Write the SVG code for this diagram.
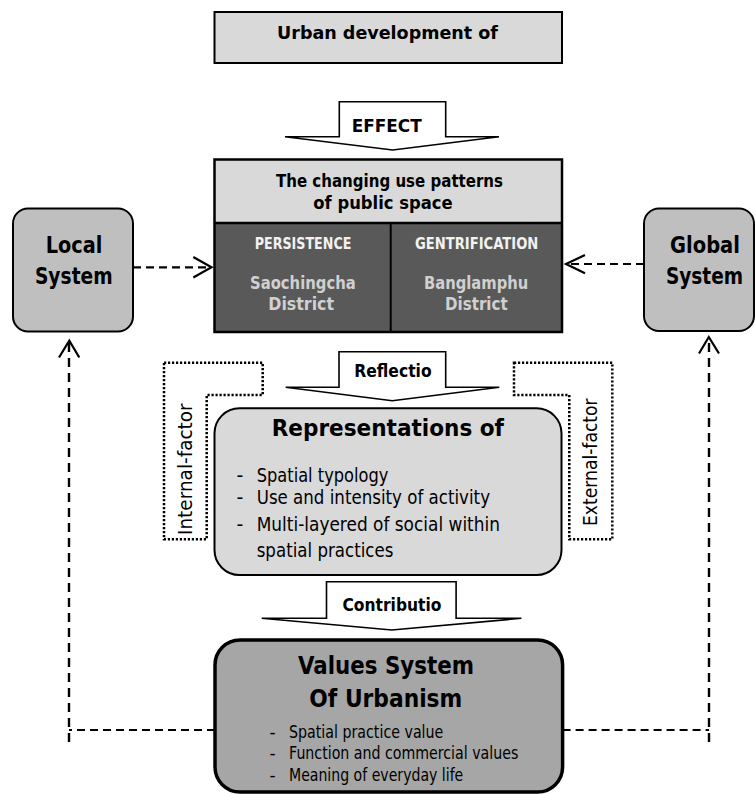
<svg xmlns="http://www.w3.org/2000/svg" width="755" height="794" viewBox="0 0 755 794">
<style>
text{font-family:"DejaVu Sans","Liberation Sans",sans-serif;fill:#000}
.b{font-weight:bold}
.lt{fill:#f2f2f2}
.lg{fill:#d0d0d0}
.box{stroke:#000;stroke-width:2}
.dash{fill:none;stroke:#000;stroke-width:2.2;stroke-dasharray:8 5}
.vdash{fill:none;stroke:#000;stroke-width:2.4;stroke-dasharray:9 6}
.chev{fill:none;stroke:#000;stroke-width:2.2}
.dot{fill:none;stroke:#000;stroke-width:2.5;stroke-dasharray:2.2 1.8}
.barrow{fill:#fff;stroke:#000;stroke-width:1.6;stroke-linejoin:miter}
</style>
<rect width="755" height="794" fill="#fff"/>

<g id="urban-development">
<rect x="214.5" y="12" width="347.5" height="51" fill="#d9d9d9" class="box"/>
<text x="277" y="39" class="b" font-size="17.5" textLength="221" lengthAdjust="spacingAndGlyphs">Urban development of</text>
</g>

<g id="effect-arrow">
<polygon class="barrow" points="339.3,101.7 445.7,101.7 445.7,136.7 499,136.7 392.7,150 285,136.7 339.3,136.7"/>
<text x="351.7" y="132" class="b" font-size="18" textLength="70" lengthAdjust="spacingAndGlyphs">EFFECT</text>
</g>

<g id="public-space">
<rect x="214.5" y="159.5" width="347.5" height="63.5" fill="#d9d9d9"/>
<rect x="214.5" y="223" width="347.5" height="109" fill="#595959"/>
<rect x="214.5" y="159.5" width="347.5" height="172.5" fill="none" stroke="#000" stroke-width="2.5"/>
<line x1="214.5" y1="223" x2="562" y2="223" stroke="#000" stroke-width="2.5"/>
<line x1="390.7" y1="223" x2="390.7" y2="332" stroke="#000" stroke-width="2"/>
<text x="276" y="186.5" class="b" font-size="17" textLength="227" lengthAdjust="spacingAndGlyphs">The changing use patterns</text>
<text x="313.3" y="209" class="b" font-size="17" textLength="139.4" lengthAdjust="spacingAndGlyphs">of public space</text>
<text x="254.7" y="249.3" class="b lt" font-size="16.5" textLength="96.7" lengthAdjust="spacingAndGlyphs">PERSISTENCE</text>
<text x="415" y="249.3" class="b lt" font-size="16.5" textLength="123.3" lengthAdjust="spacingAndGlyphs">GENTRIFICATION</text>
<text x="250" y="288.5" class="b lg" font-size="18.5" textLength="105.7" lengthAdjust="spacingAndGlyphs">Saochingcha</text>
<text x="268.3" y="310" class="b lg" font-size="18.5" textLength="65.7" lengthAdjust="spacingAndGlyphs">District</text>
<text x="424" y="288.5" class="b lg" font-size="18.5" textLength="104.3" lengthAdjust="spacingAndGlyphs">Banglamphu</text>
<text x="445" y="310" class="b lg" font-size="18.5" textLength="62.7" lengthAdjust="spacingAndGlyphs">District</text>
</g>

<g id="local-system">
<rect x="13" y="208.5" width="120" height="123" rx="15" fill="#bfbfbf" class="box"/>
<text x="74" y="253.3" text-anchor="middle" class="b" font-size="23" textLength="56.7" lengthAdjust="spacingAndGlyphs">Local</text>
<text x="73.8" y="284" text-anchor="middle" class="b" font-size="23" textLength="77.7" lengthAdjust="spacingAndGlyphs">System</text>
</g>

<g id="global-system">
<rect x="644" y="208.5" width="110" height="122.5" rx="15" fill="#bfbfbf" class="box"/>
<text transform="translate(705,253.3) scale(0.849,1)" text-anchor="middle" class="b" font-size="23">Global</text>
<text transform="translate(704.5,284) scale(0.807,1)" text-anchor="middle" class="b" font-size="23">System</text>
</g>

<g id="reflection-arrow">
<polygon class="barrow" points="339,351.7 445.7,351.7 445.7,387.3 499.3,387.3 392.3,400.7 285.7,387.3 339,387.3"/>
<text x="354.3" y="377.3" class="b" font-size="17.5" textLength="77.3" lengthAdjust="spacingAndGlyphs">Reflectio</text>
</g>

<g id="internal-factor">
<polygon class="dot" points="164,362.7 262.7,362.7 262.7,395 206.7,395 206.7,539.3 164,539.3"/>
<text transform="translate(192.3,469.2) rotate(-90)" text-anchor="middle" font-size="19" textLength="131.7" lengthAdjust="spacingAndGlyphs">Internal-factor</text>
</g>

<g id="external-factor">
<polygon class="dot" points="514,362.7 612.3,362.7 612.3,539.3 569.3,539.3 569.3,395 514,395"/>
<text transform="translate(596.7,462.2) rotate(-90)" text-anchor="middle" font-size="19" textLength="127.7" lengthAdjust="spacingAndGlyphs">External-factor</text>
</g>

<g id="representations">
<rect x="214.5" y="408.3" width="347" height="166.7" rx="25" fill="#d9d9d9" class="box"/>
<text x="271.7" y="436" class="b" font-size="23" textLength="232.3" lengthAdjust="spacingAndGlyphs">Representations of</text>
<text x="236.5" y="481.7" font-size="19">-</text>
<text x="256.7" y="481.7" font-size="19" textLength="131.7" lengthAdjust="spacingAndGlyphs">Spatial typology</text>
<text x="236.5" y="504" font-size="19">-</text>
<text x="256.7" y="504" font-size="19" textLength="233.3" lengthAdjust="spacingAndGlyphs">Use and intensity of activity</text>
<text x="236.5" y="530.7" font-size="19">-</text>
<text x="256.7" y="530.7" font-size="19" textLength="243.3" lengthAdjust="spacingAndGlyphs">Multi-layered of social within</text>
<text x="256.7" y="556.5" font-size="19" textLength="136.7" lengthAdjust="spacingAndGlyphs">spatial practices</text>
</g>

<g id="contribution-arrow">
<polygon class="barrow" points="326.5,581.7 456.1,581.7 456.1,618.3 521.4,618.3 391.8,630 261.7,618.3 326.5,618.3"/>
<text x="342.5" y="611" class="b" font-size="17.5" textLength="98.9" lengthAdjust="spacingAndGlyphs">Contributio</text>
</g>

<g id="values-system">
<rect x="215" y="640" width="347.6" height="152" rx="25" fill="#a6a6a6" stroke="#000" stroke-width="3.5"/>
<text x="298" y="673.5" class="b" font-size="25" textLength="176" lengthAdjust="spacingAndGlyphs">Values System</text>
<text x="309.3" y="706.7" class="b" font-size="24.5" textLength="153" lengthAdjust="spacingAndGlyphs">Of Urbanism</text>
<text x="269.5" y="738.3" font-size="17">-</text>
<text x="289" y="738.3" font-size="17.5" textLength="154.3" lengthAdjust="spacingAndGlyphs">Spatial practice value</text>
<text x="269.5" y="759.3" font-size="17">-</text>
<text x="289" y="759.3" font-size="17.5" textLength="229.3" lengthAdjust="spacingAndGlyphs">Function and commercial values</text>
<text x="269.5" y="780.7" font-size="17">-</text>
<text x="289" y="780.7" font-size="17.5" textLength="174.3" lengthAdjust="spacingAndGlyphs">Meaning of everyday life</text>
</g>

<g id="connectors">
<path class="dash" d="M133,267.3 H209"/>
<path class="chev" d="M193.3,257 L211.5,267.3 L193.3,277.5"/>
<path class="dash" d="M644,264 H568"/>
<path class="chev" d="M585,255 L566,264 L585,273.3"/>
<path class="dash" d="M215,730 H69"/>
<path class="vdash" d="M69,742 V343"/>
<path class="chev" d="M59,357.5 L69.3,340.7 L79.3,357.5"/>
<path class="dash" d="M562.6,730 H709"/>
<path class="vdash" d="M709,742 V339"/>
<path class="chev" d="M699,353.5 L708.8,337 L719,353.5"/>
</g>
</svg>
